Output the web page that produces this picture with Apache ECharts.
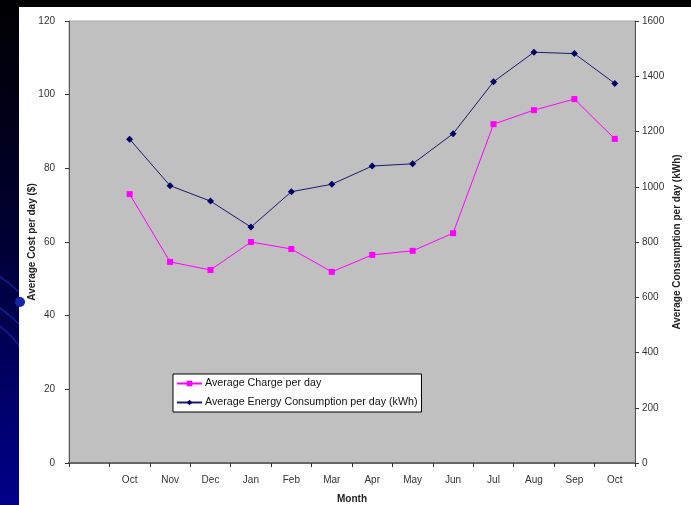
<!DOCTYPE html>
<html>
<head>
<meta charset="utf-8">
<title>Average Charge and Energy Consumption per Day</title>
<script src="https://cdn.jsdelivr.net/npm/echarts@6/dist/echarts.min.js"></script>
<style>
  html, body { margin: 0; padding: 0; background: #000; }
  #chart { width: 691px; height: 505px; }
</style>
</head>
<body>
<div id="chart"></div>
<script>
// Months on the category axis (first slot left empty)
const months = ['', 'Oct', 'Nov', 'Dec', 'Jan', 'Feb', 'Mar', 'Apr', 'May', 'Jun', 'Jul', 'Aug', 'Sep', 'Oct'];

// Average charge per day ($), left axis
const chargePerDay = [null, 73.0, 54.6, 52.4, 60.0, 58.1, 51.9, 56.5, 57.6, 62.4, 92.0, 95.8, 98.8, 88.0];

// Average energy consumption per day (kWh), right axis
const energyPerDay = [null, 1172, 1004, 948, 854, 982, 1009, 1075, 1083, 1192, 1380, 1487, 1482, 1374];

// Axis ranges and tick labels
const costTicks = [0, 20, 40, 60, 80, 100, 120];
const energyTicks = [0, 200, 400, 600, 800, 1000, 1200, 1400, 1600];

const chart = echarts.init(document.getElementById('chart'), null, { renderer: 'canvas' });

const labelFont = { fontFamily: 'Liberation Sans, Arial, sans-serif', fontSize: 10, color: '#333' };
const nameFont = { fontFamily: 'Liberation Sans, Arial, sans-serif', fontSize: 10, fontWeight: 'bold', color: '#222' };

const option = {
  backgroundColor: '#000',
  animation: false,
  graphic: [
    // white slide panel behind the chart
    { type: 'rect', z: -10, shape: { x: 19, y: 7, width: 672, height: 498 }, style: { fill: '#fff' } },
    // dark-to-navy strip on the left
    {
      type: 'rect', z: -10, shape: { x: 0, y: 0, width: 19, height: 505 },
      style: {
        fill: new echarts.graphic.LinearGradient(0, 0, 0, 1, [
          { offset: 0, color: '#000000' },
          { offset: 0.45, color: '#000030' },
          { offset: 1, color: '#00008a' }
        ])
      }
    },
    // decorative blue swooshes on the strip
    { type: 'bezierCurve', z: -9, shape: { x1: 0, y1: 277, x2: 19, y2: 292, cpx1: 8, cpy1: 282 }, style: { stroke: '#2233dd', lineWidth: 1, fill: null } },
    { type: 'circle', z: -9, shape: { cx: 20, cy: 302, r: 5 }, style: { fill: '#1424a8' } },
    { type: 'bezierCurve', z: -9, shape: { x1: 0, y1: 308, x2: 19, y2: 324, cpx1: 9, cpy1: 314 }, style: { stroke: '#2233dd', lineWidth: 1, fill: null } },
    { type: 'bezierCurve', z: -9, shape: { x1: 0, y1: 326, x2: 19, y2: 345, cpx1: 9, cpy1: 333 }, style: { stroke: '#2233dd', lineWidth: 1, fill: null } }
  ],
  grid: {
    left: 69, right: 56, top: 21, bottom: 42,
    outerBoundsMode: 'none',
    containLabel: false,
    show: true,
    backgroundColor: '#c0c0c0',
    borderColor: '#a8a8a8',
    borderWidth: 1
  },
  legend: {
    orient: 'vertical',
    left: 173, top: 374,
    backgroundColor: '#fff',
    borderColor: '#000',
    borderWidth: 1,
    borderRadius: 0,
    padding: [4, 4, 4, 3],
    itemWidth: 25,
    itemHeight: 7,
    itemGap: 8,
    textStyle: { fontFamily: 'Liberation Sans, Arial, sans-serif', fontSize: 10.7, color: '#111', padding: [0, 0, 0, -2] },
    data: ['Average Charge per day', 'Average Energy Consumption per day (kWh)']
  },
  xAxis: {
    type: 'category',
    data: months,
    boundaryGap: true,
    name: 'Month',
    nameLocation: 'middle',
    nameGap: 31,
    nameMoveOverlap: false,
    nameTextStyle: nameFont,
    axisLine: { lineStyle: { color: '#666', width: 2 } },
    axisTick: { show: true, length: 4, lineStyle: { color: '#333' } },
    axisLabel: Object.assign({ margin: 12, interval: 0 }, labelFont),
    splitLine: { show: false }
  },
  yAxis: [
    {
      type: 'value',
      min: costTicks[0], max: costTicks[costTicks.length - 1], interval: 20,
      name: 'Average Cost per day ($)',
      nameLocation: 'middle',
      nameRotate: 90,
      nameGap: 32,
      nameMoveOverlap: false,
      nameTextStyle: nameFont,
      axisLine: { show: true, lineStyle: { color: '#555', width: 1 } },
      axisTick: { show: true, length: 4, lineStyle: { color: '#333' } },
      axisLabel: Object.assign({ margin: 14 }, labelFont),
      splitLine: { show: false }
    },
    {
      type: 'value',
      position: 'right',
      min: energyTicks[0], max: energyTicks[energyTicks.length - 1], interval: 200,
      name: 'Average Consumption per day (kWh)',
      nameLocation: 'middle',
      nameRotate: 90,
      nameGap: 37,
      nameMoveOverlap: false,
      nameTextStyle: nameFont,
      axisLine: { show: true, lineStyle: { color: '#555', width: 1 } },
      axisTick: { show: true, length: 4, lineStyle: { color: '#333' } },
      axisLabel: Object.assign({ margin: 7, formatter: v => String(v) }, labelFont),
      splitLine: { show: false }
    }
  ],
  series: [
    {
      name: 'Average Charge per day',
      type: 'line',
      yAxisIndex: 0,
      data: chargePerDay,
      symbol: 'rect',
      symbolSize: 6,
      lineStyle: { color: '#ff00ff', width: 1 },
      itemStyle: { color: '#ff00ff' }
    },
    {
      name: 'Average Energy Consumption per day (kWh)',
      type: 'line',
      yAxisIndex: 1,
      data: energyPerDay,
      symbol: 'diamond',
      symbolSize: 7,
      lineStyle: { color: '#1a1a70', width: 1 },
      itemStyle: { color: '#000066' }
    }
  ]
};

chart.setOption(option);
</script>
</body>
</html>
